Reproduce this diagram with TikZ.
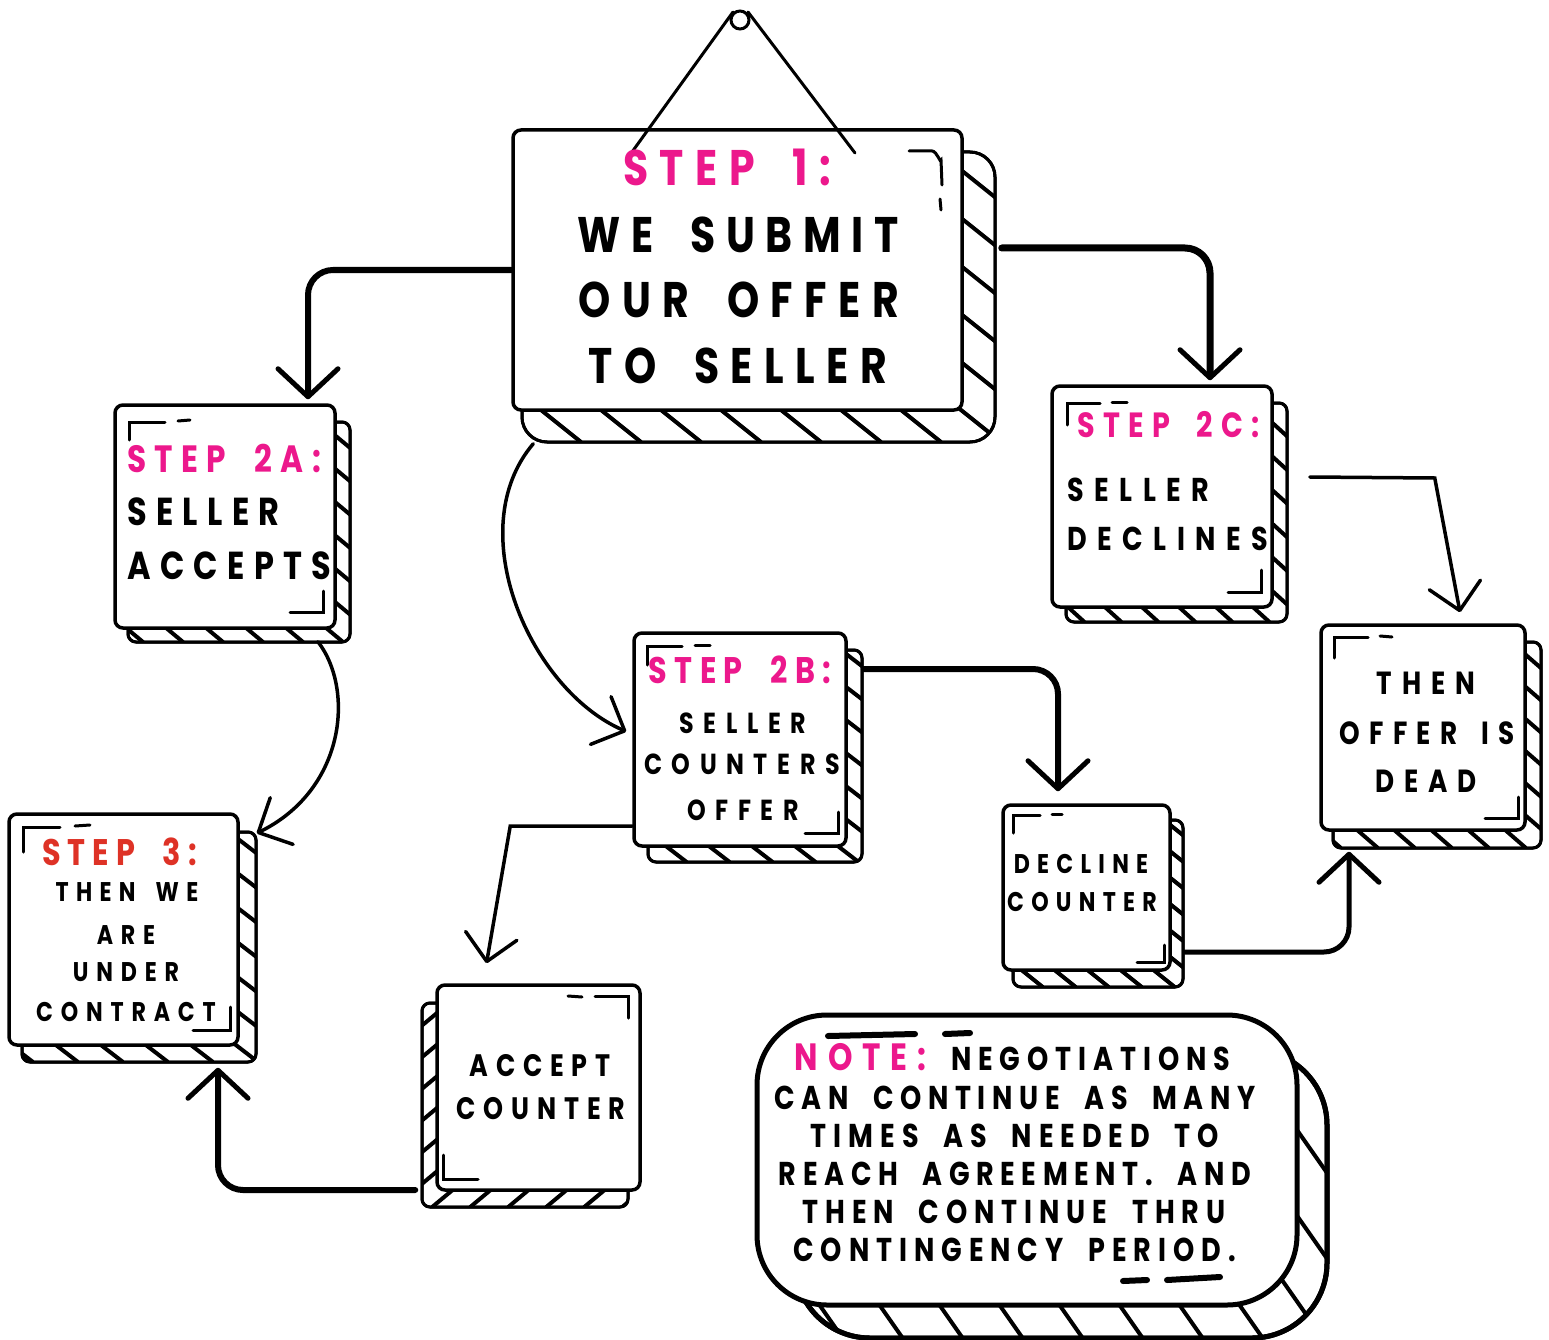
\documentclass[tikz,border=0pt]{standalone}
\usepackage{fontspec}
\setmainfont{Poppins}[FakeStretch=0.82]
\usetikzlibrary{arrows.meta,calc}
\definecolor{pinkc}{RGB}{236,24,140}
\definecolor{redc}{RGB}{222,50,38}
\newcommand\tf[2]{\fontsize{#1pt}{#1pt}\selectfont\bfseries\addfontfeature{LetterSpace=#2}\spaceskip=0.75em\relax}
% back plate with hatching: x1 y1 x2 y2 radius spacing dx-per-dy
\newcommand\hback[7]{%
  \draw[backline, fill=white, rounded corners=#5] (#1,#2) rectangle (#3,#4);
  \begin{scope}
    \clip[rounded corners=#5] (#1,#2) rectangle (#3,#4);
    \pgfmathsetmacro\hh{#4-#2}
    \foreach \k in {-30,...,30}{\draw[hatchline] ({(#1+#3)/2+\k*#6},#2) -- ++({#7*\hh},\hh);}
  \end{scope}
  \draw[backline, rounded corners=#5] (#1,#2) rectangle (#3,#4);
}
\begin{document}
\begin{tikzpicture}[x=1pt,y=-1pt,
  front/.style={draw, fill=white, line width=3.5pt, rounded corners=8pt, inner sep=0pt},
  backline/.style={draw, line width=3pt},
  hatchline/.style={line width=4pt},
  brk/.style={line width=3pt, line cap=round},
  conn/.style={line width=6pt, rounded corners=25pt, line cap=round, -{Straight Barb[length=28pt,width=60pt,line width=5pt,round]}},
  thinconn/.style={line width=3.5pt, line cap=round, -{Straight Barb[length=26pt,width=52pt,line width=3.5pt,round]}},
  txt/.style={inner sep=0pt, text=black},
]
\fill[white] (0,0) rectangle (1549,1340);
\path[use as bounding box] (0,0) rectangle (1549,1340);

% ---- back plates ----
\hback{522}{152}{995}{442}{25pt}{60}{1.25}
\hback{128}{422}{350}{642}{8pt}{40}{1.2}
\hback{22}{832}{256}{1062}{8pt}{45}{1.3}
\hback{648}{650}{862}{862}{8pt}{43}{1.3}
\hback{1066}{403}{1287}{622}{8pt}{37}{1.1}
\hback{1333}{642}{1541}{848}{8pt}{37}{1.15}
\hback{1013}{820}{1183}{987}{8pt}{33}{1.25}
\hback{422}{1003}{628}{1207}{8pt}{38}{-1.2}
\begin{scope}[backline/.style={draw, line width=5pt}, hatchline/.style={line width=4pt}]
\hback{795}{1050}{1327}{1338}{75pt}{60}{0.7}
\end{scope}

% ---- front plates ----
\node[front, minimum width=449pt, minimum height=280pt] (main) at (737.5,270) {};
\node[front, minimum width=220pt, minimum height=223pt] (n2a) at (225,516.5) {};
\node[front, minimum width=229pt, minimum height=231pt] (s3) at (123.5,929.5) {};
\node[front, minimum width=212pt, minimum height=213pt] (n2b) at (740,739.5) {};
\node[front, minimum width=220pt, minimum height=221pt] (n2c) at (1162,496.5) {};
\node[front, minimum width=204pt, minimum height=205pt] (ndead) at (1423,727.5) {};
\node[front, minimum width=167pt, minimum height=165pt] (ndec) at (1086.5,887.5) {};
\node[front, minimum width=203pt, minimum height=205pt] (nacc) at (538.5,1087.5) {};
\node[front, line width=5pt, rounded corners=70pt, minimum width=540pt, minimum height=290pt] (note) at (1027,1160) {};

% ---- hanger ----
\draw[line width=3pt] (740,20) circle (9);
\draw[line width=3pt, line cap=round] (632,152) -- (733,12);
\draw[line width=3pt, line cap=round] (748,12) -- (855,153);

% ---- corner brackets ----
\draw[brk] (909,151) -- (932,151) to[out=0,in=-90] (941,160) -- (942,185);
\draw[brk] (940,199) -- (941,210);
\draw[brk] (129,440) -- (129,422) -- (165,422); \draw[brk] (178,421) -- (190,420);
\draw[brk] (323,591) -- (323,612) -- (290,612);
\draw[brk] (23,852) -- (23,827) -- (60,827); \draw[brk] (75,826) -- (90,825);
\draw[brk] (230,1007) -- (230,1030) -- (193,1030);
\draw[brk] (647,665) -- (647,646) -- (682,646); \draw[brk] (695,645) -- (710,645);
\draw[brk] (838,812) -- (838,833) -- (805,833);
\draw[brk] (1067,425) -- (1067,403) -- (1100,403); \draw[brk] (1112,402) -- (1127,402);
\draw[brk] (1261,570) -- (1261,592) -- (1228,592);
\draw[brk] (1334,658) -- (1334,637) -- (1368,637); \draw[brk] (1380,636) -- (1392,637);
\draw[brk] (1518,797) -- (1518,818) -- (1485,818);
\draw[brk] (1013,833) -- (1013,815) -- (1040,815); \draw[brk] (1052,814) -- (1062,814);
\draw[brk] (1164,945) -- (1164,962) -- (1137,962);
\draw[brk] (595,996) -- (628,996) -- (628,1018); \draw[brk] (568,996) -- (582,997);
\draw[brk] (443,1155) -- (443,1179) -- (478,1179);
\draw[brk, line width=6pt] (828,1036) -- (915,1034); \draw[brk, line width=6pt] (945,1034) -- (970,1033);
\draw[brk, line width=6pt] (1123,1281) -- (1147,1280); \draw[brk, line width=6pt] (1167,1280) -- (1220,1277);

% ---- texts ----
\node[txt, text=pinkc] (t1a) at (727,167.5) {\tf{50}{23}STEP 1:};
\node[txt] (t1b) at (738,234.5) {\tf{50}{21}WE SUBMIT};
\node[txt] (t1c) at (739,299.5) {\tf{50}{23}OUR OFFER};
\node[txt] (t1d) at (738,366) {\tf{50}{23}TO SELLER};

\node[txt, anchor=west, text=pinkc] (t2a1) at (127,458.5) {\tf{38}{22}STEP 2A:};
\node[txt, anchor=west] (t2a2) at (127,512) {\tf{39}{24}SELLER};
\node[txt, anchor=west] (t2a3) at (127,566) {\tf{39}{24}ACCEPTS};

\node[txt, text=redc] (t31) at (119.5,852) {\tf{37}{19}STEP 3:};
\node[txt] (t32) at (127,892.5) {\tf{27}{27}THEN WE};
\node[txt] (t33) at (126,935) {\tf{27}{29}ARE};
\node[txt] (t34) at (126,972) {\tf{27}{29}UNDER};
\node[txt] (t35) at (126,1012) {\tf{27}{29}CONTRACT};

\node[txt, text=pinkc] (t2b1) at (740,670) {\tf{37}{20}STEP 2B:};
\node[txt] (t2b2) at (743,723) {\tf{29}{33}SELLER};
\node[txt] (t2b3) at (742,764) {\tf{29}{33}COUNTERS};
\node[txt] (t2b4) at (743,810) {\tf{29}{33}OFFER};

\node[txt, anchor=west, text=pinkc] (t2c1) at (1077,424.5) {\tf{35}{24}STEP 2C:};
\node[txt, anchor=west] (t2c2) at (1067,490) {\tf{33}{32}SELLER};
\node[txt, anchor=west] (t2c3) at (1067,538.5) {\tf{33}{32}DECLINES};

\node[txt] (td1) at (1426,683.5) {\tf{32}{31}THEN};
\node[txt] (td2) at (1427,733.5) {\tf{32}{29}OFFER IS};
\node[txt] (td3) at (1426,781) {\tf{32}{31}DEAD};

\node[txt] (tdc1) at (1081,864) {\tf{27}{27}DECLINE};
\node[txt] (tdc2) at (1082,902) {\tf{27}{27}COUNTER};

\node[txt] (tac1) at (540,1066) {\tf{31}{25}ACCEPT};
\node[txt] (tac2) at (541,1109) {\tf{31}{25}COUNTER};

\node[txt] (tn1) at (1012.5,1057) {{\tf{38}{26}\color{pinkc}NOTE:}\tf{33}{21} NEGOTIATIONS};
\node[txt] (tn2) at (1015,1098) {\tf{33}{20}CAN CONTINUE AS MANY};
\node[txt] (tn3) at (1015,1136) {\tf{33}{21}TIMES AS NEEDED TO};
\node[txt] (tn4) at (1015,1174) {\tf{33}{20}REACH AGREEMENT. AND};
\node[txt] (tn5) at (1014,1212) {\tf{33}{21}THEN CONTINUE THRU};
\node[txt] (tn6) at (1014.5,1250) {\tf{33}{21}CONTINGENCY PERIOD.};

% ---- connectors ----
\draw[conn] (main.west) -| ($(n2a.north)+(83,-4)$);
\draw[conn, line width=7pt] ($(main.east)+(38,-22)$) -| ($(n2c.north)+(48,-4)$);
\draw[thinconn] ($(main.south west)+(22,32)$) .. controls (460,530) and (530,690) .. ($(n2b.west)+(-6,-8)$);
\draw[thinconn] ($(n2a.south)+(93,12)$) .. controls (355,690) and (345,790) .. ($(s3.north east)+(17,21)$);
\draw[thinconn] ($(n2b.west)+(0,86.5)$) -- ++(-122,0) -- ($(nacc.north)+(-52,-20)$);
\draw[conn] ($(n2b.east)+(16,-70.5)$) -| ($(ndec.north)+(-28.5,-12)$);
\draw[thinconn] ($(n2c.east)+(36,-19.5)$) -- ++(125,1) -- ($(ndead.north)+(37,-11)$);
\draw[conn, line width=5pt] ($(ndec.east)+(13,64.5)$) -| ($(ndead.south)+(-74,20)$);
\draw[conn] ($(nacc.west)+(-20,102.5)$) -| ($(s3.south)+(94.5,21)$);
\end{tikzpicture}
\end{document}
